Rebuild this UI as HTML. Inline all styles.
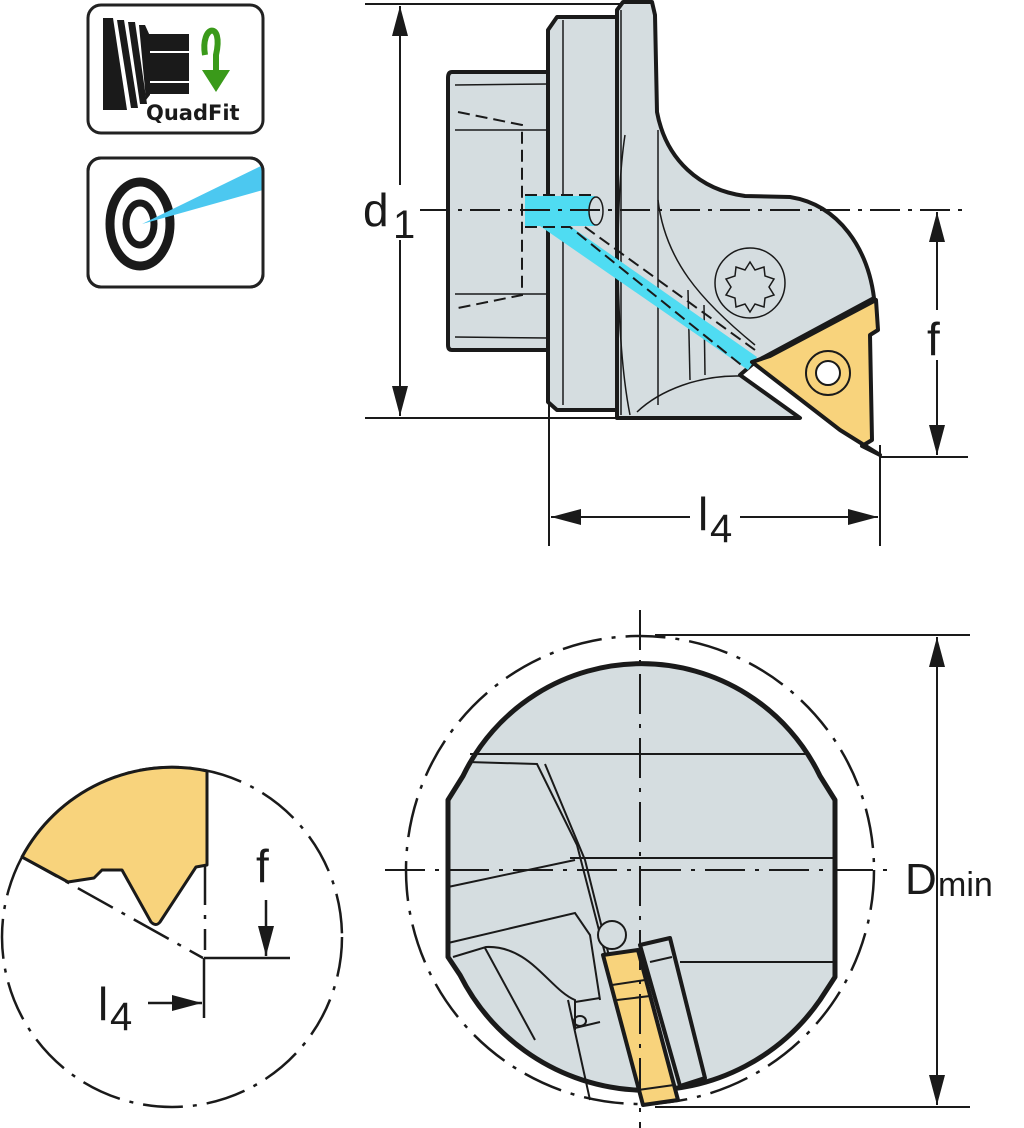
<!DOCTYPE html>
<html><head><meta charset="utf-8"><style>
html,body{margin:0;padding:0;background:#fff;}
svg{display:block;}
text{font-family:"Liberation Sans",sans-serif;fill:#1a1a1a;}
</style></head><body>
<svg width="1024" height="1128" viewBox="0 0 1024 1128" xmlns="http://www.w3.org/2000/svg">
<defs>
<marker id="arL" markerWidth="30" markerHeight="16" refX="30" refY="8" orient="auto-start-reverse" markerUnits="userSpaceOnUse" viewBox="0 0 30 16"><path d="M0,0 L30,8 L0,16 Z" fill="#1a1a1a"/></marker>
</defs>

<!-- ICONS -->
<rect x="88" y="5" width="175" height="128" rx="13" fill="#fff" stroke="#222" stroke-width="3"/>
<path d="M103,18 L113,18 L127,110 L103,110 Z" fill="#1a1a1a"/>
<path d="M117,20 L124,20 L138,108 L131,108 Z" fill="#1a1a1a"/>
<path d="M128,22 L135,22 L147,104 L140,104 Z" fill="#1a1a1a"/>
<path d="M139,25 L145,25 L150,36 L150,95 L146,100 Z" fill="#1a1a1a"/>
<rect x="147" y="34" width="42" height="17" fill="#1a1a1a"/>
<rect x="147" y="53" width="42" height="28" fill="#1a1a1a"/>
<rect x="147" y="83" width="42" height="11" fill="#1a1a1a"/>
<path d="M205,55 C200,25 224,20 216,55 L216,72" fill="none" stroke="#3a9a1a" stroke-width="6"/>
<path d="M202,70 L230,70 L216,92 Z" fill="#3a9a1a"/>
<text x="146" y="120" font-size="21" font-weight="bold" style="font-family:'DejaVu Sans',sans-serif">QuadFit</text>

<rect x="88" y="158" width="175" height="129" rx="13" fill="#fff" stroke="#222" stroke-width="3"/>
<ellipse cx="140" cy="224" rx="30" ry="42" fill="none" stroke="#1a1a1a" stroke-width="9"/>
<ellipse cx="140" cy="224" rx="14" ry="21" fill="none" stroke="#1a1a1a" stroke-width="7"/>
<path d="M142,224 L263,165 L263,190 Z" fill="#4cc8f0"/>
<rect x="88" y="158" width="175" height="129" rx="13" fill="none" stroke="#222" stroke-width="3"/>

<!-- TOP VIEW dimension lines -->
<g stroke="#1a1a1a" stroke-width="2" fill="none">
<line x1="365" y1="4" x2="620" y2="4"/>
<line x1="365" y1="418" x2="620" y2="418"/>
<line x1="400" y1="6" x2="400" y2="416" marker-start="url(#arL)" marker-end="url(#arL)"/>
<line x1="880" y1="457" x2="968" y2="457"/>
<line x1="937" y1="212" x2="937" y2="455" marker-start="url(#arL)" marker-end="url(#arL)"/>
<line x1="549" y1="400" x2="549" y2="546"/>
<line x1="880" y1="445" x2="880" y2="546"/>
<line x1="551" y1="517" x2="690" y2="517" marker-start="url(#arL)"/>
<line x1="740" y1="517" x2="878" y2="517" marker-end="url(#arL)"/>
</g>
<rect x="926" y="310" width="22" height="50" fill="#fff"/>

<!-- body -->
<g stroke="#1a1a1a" stroke-linejoin="round" fill="#d5dde0">
<path d="M452,72 L548,72 L548,350 L452,350 Q448,350 448,345 L448,78 Q448,72 452,72 Z" stroke-width="4"/>
<path d="M557,17 L617,17 L617,410 L557,410 L548,402 L548,30 Z" stroke-width="4"/>
<path d="M617,10 L623,2 L652,2 L655,15 L657,112 C666,160 700,190 745,196 L790,197 C840,205 868,250 874,298 L755,362 L740,375 L800,418 L617,418 Z" stroke-width="4"/>
</g>
<g stroke="#1a1a1a" stroke-width="1.5" fill="none">
<line x1="455" y1="85" x2="548" y2="84"/><line x1="455" y1="337" x2="548" y2="338"/>
<line x1="455" y1="130" x2="548" y2="130"/><line x1="455" y1="294" x2="548" y2="294"/>
<line x1="563" y1="20" x2="563" y2="405"/>
<line x1="621" y1="10" x2="621" y2="415"/>
<line x1="658" y1="130" x2="658" y2="405"/>
<path d="M625,135 C615,200 615,340 630,415"/>
<path d="M658,200 C665,260 700,300 755,345"/>
<path d="M688,290 L690,380"/><path d="M704,305 L705,375"/>
<path d="M637,412 C660,390 700,375 740,376"/>
<circle cx="750" cy="283" r="35"/>
<path d="M750,262 l5,8 9,-3 1,9 9,3 -5,8 5,8 -9,3 -1,9 -9,-3 -5,8 -5,-8 -9,3 -1,-9 -9,-3 5,-8 -5,-8 9,-3 1,-9 9,3 Z"/>
</g>
<g stroke="#1a1a1a" stroke-width="2" stroke-dasharray="12,6" fill="none">
<path d="M458,112 L522,125 L522,295 L458,308"/>
</g>
<!-- coolant -->
<path d="M525,196 L595,196 L595,226 L570,226 L757,357 L748,370 L540,226 L525,226 Z" fill="#4fdcf2"/>
<ellipse cx="596" cy="211" rx="7" ry="14" fill="#d5dde0" stroke="#1a1a1a" stroke-width="1.5"/>
<g stroke="#1a1a1a" stroke-width="2" stroke-dasharray="12,6" fill="none">
<path d="M525,195 L592,195"/><path d="M525,227 L570,227 L745,368"/><path d="M585,227 L755,350"/>
</g>
<!-- insert -->
<path d="M752,362 L770,356 L876,300 L878,330 L870,335 L872,440 L862,446 L880,455 L840,430 Z" fill="#f8d37c" stroke="#1a1a1a" stroke-width="4" stroke-linejoin="round"/>
<circle cx="828" cy="373" r="22" fill="#f8d37c" stroke="#1a1a1a" stroke-width="2"/>
<circle cx="828" cy="373" r="12" fill="#fff" stroke="#1a1a1a" stroke-width="2"/>
<line x1="420" y1="210" x2="968" y2="210" stroke="#1a1a1a" stroke-width="2" stroke-dasharray="30,8,4,8"/>
<rect x="388" y="185" width="24" height="55" fill="#fff"/>
<text x="363" y="226" font-size="46">d</text><text x="393" y="238" font-size="40">1</text>
<text x="927" y="355" font-size="46">f</text>
<text x="698" y="530" font-size="46">l</text><text x="710" y="542" font-size="40">4</text>

<!-- BOTTOM RIGHT VIEW -->
<g stroke="#1a1a1a" stroke-width="2" fill="none">
<line x1="655" y1="635" x2="970" y2="635"/>
<line x1="655" y1="1107" x2="970" y2="1107"/>
<line x1="937" y1="637" x2="937" y2="1105" marker-start="url(#arL)" marker-end="url(#arL)"/>
</g>
<circle cx="640" cy="870" r="234" fill="none" stroke="#1a1a1a" stroke-width="2.5" stroke-dasharray="40,10,4,10"/>
<path d="M448,957 L448,800 L463,776 A198,198 0 0 1 820,776 L835,800 L835,977 L820,1000 A210,210 0 0 1 460,975 Z" fill="#d5dde0"/>
<g stroke="#1a1a1a" stroke-width="2" fill="none">
<line x1="470" y1="754" x2="810" y2="754"/>
<line x1="570" y1="858" x2="835" y2="858"/>
<line x1="680" y1="962" x2="835" y2="962"/>
<path d="M468,762 L537,764 L577,845 L617,1000"/>
<path d="M545,764 L585,860 L625,1020"/>
<path d="M448,887 L575,860"/>
<path d="M448,943 L575,913 L590,935 L600,1000"/>
<path d="M453,957 L486,947 C530,945 550,990 575,1000 L575,1030"/>
<path d="M485,948 L535,1040"/>
<path d="M575,1002 L600,998"/><path d="M575,1028 L600,1022"/>
<ellipse cx="580" cy="1021" rx="6" ry="5"/>
<path d="M568,1000 L590,1100"/>
</g>
<path d="M448,957 L448,800 L463,776 A198,198 0 0 1 820,776 L835,800 L835,977 L820,1000 A210,210 0 0 1 460,975 Z" fill="none" stroke="#1a1a1a" stroke-width="5" stroke-linejoin="round"/>
<circle cx="612" cy="935" r="14" fill="#d5dde0" stroke="#1a1a1a" stroke-width="2"/>
<path d="M640,945 L670,938 L705,1078 L680,1086 Z" fill="#d5dde0" stroke="#1a1a1a" stroke-width="4" stroke-linejoin="round"/>
<line x1="650" y1="962" x2="672" y2="957" stroke="#1a1a1a" stroke-width="2"/>
<path d="M603,955 L638,950 L678,1100 L643,1105 Z" fill="#f8d37c" stroke="#1a1a1a" stroke-width="4" stroke-linejoin="round"/>
<line x1="612" y1="985" x2="645" y2="980" stroke="#1a1a1a" stroke-width="2"/>
<line x1="617" y1="1000" x2="650" y2="996" stroke="#1a1a1a" stroke-width="2"/>
<line x1="638" y1="1090" x2="674" y2="1085" stroke="#1a1a1a" stroke-width="2"/>
<line x1="640" y1="610" x2="640" y2="1128" stroke="#1a1a1a" stroke-width="2" stroke-dasharray="40,10,4,10"/>
<line x1="385" y1="870" x2="895" y2="870" stroke="#1a1a1a" stroke-width="2" stroke-dasharray="40,10,4,10"/>
<text x="905" y="894" font-size="44">D</text><text x="938" y="896" font-size="34">min</text>

<!-- BOTTOM LEFT DETAIL -->
<circle cx="172" cy="937" r="170" fill="none" stroke="#1a1a1a" stroke-width="2.5" stroke-dasharray="40,10,4,10"/>
<path d="M22,857 A170,170 0 0 1 207,771 L207,865 L196,867 L160,922 Q156,927 151,922 L122,870 L102,870 L94,878 L68,882 Z" fill="#f8d37c" stroke="#1a1a1a" stroke-width="3" stroke-linejoin="round"/>
<g stroke="#1a1a1a" stroke-width="2.5" fill="none">
<line x1="22" y1="857" x2="203" y2="958" stroke-dasharray="40,10,4,10"/>
<line x1="205" y1="865" x2="205" y2="950" stroke-dasharray="40,10,4,10"/>
<line x1="204" y1="958" x2="204" y2="1018"/>
<line x1="204" y1="958" x2="290" y2="958"/>
<line x1="266" y1="900" x2="266" y2="956" marker-end="url(#arL)"/>
<line x1="148" y1="1003" x2="202" y2="1003" marker-end="url(#arL)"/>
</g>
<text x="256" y="882" font-size="46">f</text>
<text x="98" y="1020" font-size="46">l</text><text x="110" y="1030" font-size="40">4</text>
</svg>
</body></html>
